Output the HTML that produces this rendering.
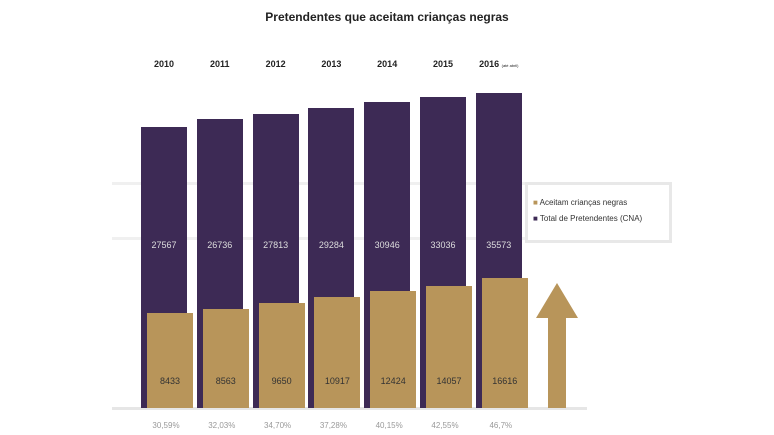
<!DOCTYPE html>
<html><head><style>
body{margin:0;width:774px;height:435px;background:#fff;position:relative;overflow:hidden;font-family:"Liberation Sans",sans-serif}
.a{position:absolute}
.t{position:absolute;text-align:center;width:60px;font-size:9px}
</style></head><body>
<div class="a" style="left:0;width:774px;top:10px;text-align:center;font-size:12px;font-weight:bold;color:#222">Pretendentes que aceitam crianças negras</div>
<div class="a" style="left:112px;top:182px;width:560px;height:3px;background:#f0f0f0"></div>
<div class="a" style="left:112px;top:237px;width:560px;height:3px;background:#f0f0f0"></div>
<div class="a" style="left:525px;top:182px;width:141px;height:55px;border:3px solid #e8e8e8;background:#fff"></div>
<div class="a" style="left:533px;top:198px;font-size:8px;color:#333"><span style="color:#b8955a">■</span> Aceitam crianças negras</div>
<div class="a" style="left:533px;top:214px;font-size:8px;color:#333"><span style="color:#3d2a55">■</span> Total de Pretendentes (CNA)</div>
<div class="a" style="left:112px;top:407px;width:475px;height:3px;background:#e6e6e6"></div>
<svg class="a" style="left:0;top:0" width="774" height="435">
<polygon points="557,283 578,318 566,318 566,408 548,408 548,318 536,318" fill="#b8955a"/>
</svg>
<div id="c"></div>
<script>
var yrs=["2010","2011","2012","2013","2014","2015","2016"],pt=[127,119,114,108,102,97,93],gt=[313,309,303,297,291,286,278],
pv=["27567","26736","27813","29284","30946","33036","35573"],gv=["8433","8563","9650","10917","12424","14057","16616"],
pc=["30,59%","32,03%","34,70%","37,28%","40,15%","42,55%","46,7%"],h="";
for(var i=0;i<7;i++){var x=141+55.8*i;
h+='<div class="a" style="left:'+x+'px;top:'+pt[i]+'px;width:46px;height:'+(408-pt[i])+'px;background:#3d2a55"></div>';
h+='<div class="a" style="left:'+(x+6)+'px;top:'+gt[i]+'px;width:46px;height:'+(408-gt[i])+'px;background:#b8955a"></div>';
h+='<div class="t" style="left:'+(x-7)+'px;top:240px;color:#ddd">'+pv[i]+'</div>';
h+='<div class="t" style="left:'+(x-1)+'px;top:376px;color:#333">'+gv[i]+'</div>';
h+='<div class="t" style="left:'+(x-5)+'px;top:421px;color:#999;font-size:8px">'+pc[i]+'</div>';
h+='<div class="t" style="left:'+(x-7)+'px;top:59px;color:#222;font-weight:bold">'+yrs[i]+(i==6?' <span style="font-size:4px;font-weight:normal">(até abril)</span>':'')+'</div>';}
document.getElementById("c").innerHTML=h;
</script>
</body></html>
